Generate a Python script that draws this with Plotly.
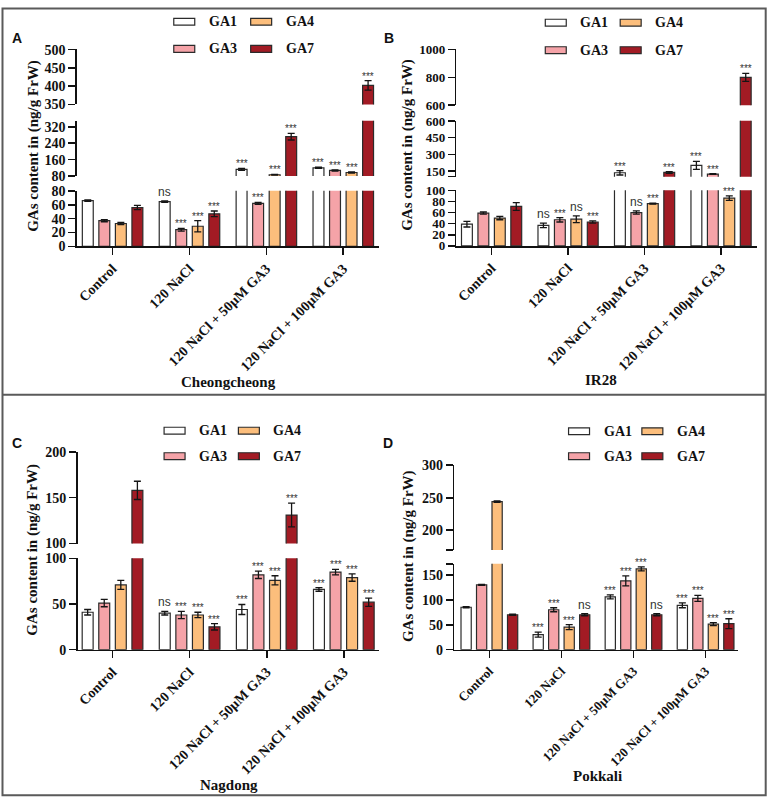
import plotly.graph_objects as go

# ---------------- data ----------------
CATEGORIES = ["Control", "120 NaCl", "120 NaCl + 50µM GA3", "120 NaCl + 100µM GA3"]
SERIES = ["GA1", "GA3", "GA4", "GA7"]
LEGEND_ORDER = ["GA1", "GA4", "GA3", "GA7"]  # 2 x 2, row-major

# Panel A - Cheongcheong
A_GA1 = [66, 64.5, 112, 120]
A_GA3 = [37, 24, 62, 107]
A_GA4 = [33, 29, 86, 97]
A_GA7 = [56, 47, 272, 402]
A_GA1_ERR = [1, 1, 5, 3]
A_GA3_ERR = [1.5, 2, 1.5, 3]
A_GA4_ERR = [1.5, 8, 2, 3]
A_GA7_ERR = [3, 4, 16, 13]
A_GA1_SIG = ["", "ns", "***", "***"]
A_GA3_SIG = ["", "***", "***", "***"]
A_GA4_SIG = ["", "***", "***", "***"]
A_GA7_SIG = ["", "***", "***", "***"]
A_BREAKS = [[0, 80], [80, 350], [350, 500]]
A_TICKS = [[0, 20, 40, 60, 80], [80, 160, 240, 320], [350, 400, 450, 500]]

# Panel B - IR28
B_GA1 = [39, 37, 135, 201]
B_GA3 = [59, 47, 60, 123]
B_GA4 = [50, 48, 76, 86]
B_GA7 = [71, 43, 138, 800]
B_GA1_ERR = [5, 4, 20, 36]
B_GA3_ERR = [2, 4, 3, 3]
B_GA4_ERR = [3, 6, 1, 4]
B_GA7_ERR = [7, 2, 8, 29]
B_GA1_SIG = ["", "ns", "***", "***"]
B_GA3_SIG = ["", "***", "ns", "***"]
B_GA4_SIG = ["", "ns", "***", "***"]
B_GA7_SIG = ["", "***", "***", "***"]
B_BREAKS = [[0, 100], [100, 600], [600, 1000]]
B_TICKS = [[0, 20, 40, 60, 80, 100], [100, 150, 300, 450, 600], [600, 800, 1000]]
B_TICKTEXT = [["0", "20", "40", "60", "80", "100"], ["", "150", "300", "450", "600"], ["600", "800", "1000"]]

# Panel C - Nagdong
C_GA1 = [41, 40, 44, 66]
C_GA3 = [51, 38, 82, 85]
C_GA4 = [71, 38, 76, 79]
C_GA7 = [158, 25, 131, 52]
C_GA1_ERR = [3, 2, 5.5, 2]
C_GA3_ERR = [4, 4, 4, 3]
C_GA4_ERR = [5, 3, 5, 4]
C_GA7_ERR = [10, 3.5, 13, 4.5]
C_GA1_SIG = ["", "ns", "***", "***"]
C_GA3_SIG = ["", "***", "***", "***"]
C_GA4_SIG = ["", "***", "***", "***"]
C_GA7_SIG = ["", "***", "***", "***"]
C_BREAKS = [[0, 100], [100, 200]]
C_TICKS = [[0, 50, 100], [100, 150, 200]]

# Panel D - Pokkali
D_GA1 = [85, 30, 106, 89]
D_GA3 = [130, 80, 138, 103]
D_GA4 = [244, 45, 162, 51]
D_GA7 = [70, 70, 70, 52]
D_GA1_ERR = [1, 5, 4, 5]
D_GA3_ERR = [1, 4, 10, 6]
D_GA4_ERR = [1, 5, 4, 3]
D_GA7_ERR = [1, 2, 2, 10]
D_GA1_SIG = ["", "***", "***", "***"]
D_GA3_SIG = ["", "***", "***", "***"]
D_GA4_SIG = ["", "***", "***", "***"]
D_GA7_SIG = ["", "ns", "ns", "***"]
D_BREAKS = [[0, 172], [170, 300]]
D_TICKS = [[0, 50, 100, 150, 172], [170, 200, 250, 300]]
D_TICKTEXT = [["0", "50", "100", "150", ""], ["", "200", "250", "300"]]

# ---------------- style / layout ----------------
W, H = 767, 806
SERIF = "Liberation Serif, Times New Roman, serif"
SANS = "Liberation Sans, Arial, sans-serif"
FILL = {"GA1": "#FFFFFF", "GA3": "#F5A3A8", "GA4": "#FCBE7C", "GA7": "#A21B24"}
EDGE = "#2b2b2b"
BARGAP = 0.14
BARGROUPGAP = 0.34


def fx(px):
    return px / W


def fy(py):
    return 1 - py / H


PANELS = [
    dict(letter="A", cultivar="Cheongcheong",
         values={"GA1": A_GA1, "GA3": A_GA3, "GA4": A_GA4, "GA7": A_GA7},
         errors={"GA1": A_GA1_ERR, "GA3": A_GA3_ERR, "GA4": A_GA4_ERR, "GA7": A_GA7_ERR},
         sig={"GA1": A_GA1_SIG, "GA3": A_GA3_SIG, "GA4": A_GA4_SIG, "GA7": A_GA7_SIG},
         breaks=A_BREAKS, ticks=A_TICKS, ticktext=None, yfont=14, xfont=14,
         xpx=(76, 378), xrange=[-0.464, 3.458],
         ypx=[(244, 187.3), (172.3, 115.8), (99.3, 43.3)],
         letter_pos=(16, 32), legend=(173, 15, 77, 27.7),
         ytitle=(33, 141.5), xtitle=(228, 382)),
    dict(letter="B", cultivar="IR28",
         values={"GA1": B_GA1, "GA3": B_GA3, "GA4": B_GA4, "GA7": B_GA7},
         errors={"GA1": B_GA1_ERR, "GA3": B_GA3_ERR, "GA4": B_GA4_ERR, "GA7": B_GA7_ERR},
         sig={"GA1": B_GA1_SIG, "GA3": B_GA3_SIG, "GA4": B_GA4_SIG, "GA7": B_GA7_SIG},
         breaks=B_BREAKS, ticks=B_TICKS, ticktext=B_TICKTEXT, yfont=13, xfont=14,
         xpx=(456, 757), xrange=[-0.46, 3.47],
         ypx=[(243.5, 186.7), (173, 116), (100, 43.3)],
         letter_pos=(389, 32), legend=(545, 16, 75, 28),
         ytitle=(407, 140), xtitle=(601, 380)),
    dict(letter="C", cultivar="Nagdong",
         values={"GA1": C_GA1, "GA3": C_GA3, "GA4": C_GA4, "GA7": C_GA7},
         errors={"GA1": C_GA1_ERR, "GA3": C_GA3_ERR, "GA4": C_GA4_ERR, "GA7": C_GA7_ERR},
         sig={"GA1": C_GA1_SIG, "GA3": C_GA3_SIG, "GA4": C_GA4_SIG, "GA7": C_GA7_SIG},
         breaks=C_BREAKS, ticks=C_TICKS, ticktext=None, yfont=14, xfont=14,
         xpx=(76.7, 378), xrange=[-0.453, 3.45],
         ypx=[(655, 561.7), (546.7, 453.3)],
         letter_pos=(16, 444), legend=(163.3, 431.7, 74.4, 26),
         ytitle=(32, 553), xtitle=(228, 793)),
    dict(letter="D", cultivar="Pokkali",
         values={"GA1": D_GA1, "GA3": D_GA3, "GA4": D_GA4, "GA7": D_GA7},
         errors={"GA1": D_GA1_ERR, "GA3": D_GA3_ERR, "GA4": D_GA4_ERR, "GA7": D_GA7_ERR},
         sig={"GA1": D_GA1_SIG, "GA3": D_GA3_SIG, "GA4": D_GA4_SIG, "GA7": D_GA7_SIG},
         breaks=D_BREAKS, ticks=D_TICKS, ticktext=D_TICKTEXT, yfont=14, xfont=13,
         xpx=(454, 738), xrange=[-0.485, 3.45],
         ypx=[(655, 567.3), (553.3, 466.7)],
         letter_pos=(388, 444), legend=(568.3, 432.3, 73.4, 25.4),
         ytitle=(408, 559), xtitle=(597, 784)),
]

fig = go.Figure()
layout = {}
annotations = []
shapes = []
slot = (1 - BARGAP) / len(SERIES)
xs = list(range(len(CATEGORIES)))

yi = 0
for pi, p in enumerate(PANELS):
    xname = "x" if pi == 0 else f"x{pi + 1}"
    xkey = "xaxis" if pi == 0 else f"xaxis{pi + 1}"
    seg_names = []
    for si, (rng, tv, (pyb, pyt)) in enumerate(zip(p["breaks"], p["ticks"], p["ypx"])):
        yi += 1
        yname = "y" if yi == 1 else f"y{yi}"
        ykey = "yaxis" if yi == 1 else f"yaxis{yi}"
        seg_names.append(yname)
        eps = (rng[1] - rng[0]) * 0.002
        ax = dict(domain=[fy(pyb), fy(pyt)], range=[rng[0] - eps, rng[1] + eps],
                  anchor=xname, tickmode="array", tickvals=tv,
                  showline=True, linecolor="#111", linewidth=1.6,
                  ticks="outside", ticklen=7, tickwidth=1.6, tickcolor="#111",
                  showgrid=False, zeroline=False, fixedrange=True,
                  tickfont=dict(family=SERIF, size=p["yfont"], color="#111", weight="bold"))
        if p["ticktext"] is not None:
            ax["ticktext"] = p["ticktext"][si]
        layout[ykey] = ax
        for s in SERIES:
            fig.add_trace(go.Bar(
                x=xs, y=p["values"][s], name=s, showlegend=False,
                xaxis=xname, yaxis=yname,
                marker=dict(color=FILL[s], line=dict(color=EDGE, width=1.2)),
                error_y=dict(type="data", array=p["errors"][s], visible=True,
                             color="#151515", thickness=1.3, width=3.5),
            ))
    layout[xkey] = dict(domain=[fx(p["xpx"][0]), fx(p["xpx"][1])], range=p["xrange"],
                        anchor=seg_names[0], tickmode="array", tickvals=xs,
                        ticktext=CATEGORIES, tickangle=-45,
                        showline=True, linecolor="#111", linewidth=1.6,
                        ticks="outside", ticklen=7, tickwidth=1.6, tickcolor="#111",
                        showgrid=False, zeroline=False, fixedrange=True,
                        tickfont=dict(family=SERIF, size=p["xfont"], color="#111", weight="bold"))

    # significance labels
    for k, s in enumerate(SERIES):
        for i in xs:
            lab = p["sig"][s][i]
            if not lab:
                continue
            top = p["values"][s][i] + p["errors"][s][i]
            yref = seg_names[0]
            for sn, rng in zip(seg_names, p["breaks"]):
                if rng[0] <= top <= rng[1]:
                    yref = sn
            annotations.append(dict(
                x=i + (k - 1.5) * slot, y=top, xref=xname, yref=yref,
                text=lab, showarrow=False, xanchor="center", yanchor="bottom",
                yshift=-3 if lab == "***" else 0,
                font=dict(family=SANS, size=10 if lab == "***" else 12, color="#333333")))

    # panel letter
    annotations.append(dict(x=fx(p["letter_pos"][0]), y=fy(p["letter_pos"][1]),
                            xref="paper", yref="paper", text=p["letter"], showarrow=False,
                            xanchor="center", yanchor="middle",
                            font=dict(family=SANS, size=14, color="#111", weight="bold")))
    # axis titles
    annotations.append(dict(x=fx(p["ytitle"][0]), y=fy(p["ytitle"][1]),
                            xref="paper", yref="paper", text="GAs content in (ng/g FrW)",
                            textangle=-90, showarrow=False, xanchor="center", yanchor="middle",
                            font=dict(family=SERIF, size=15, color="#111", weight="bold")))
    annotations.append(dict(x=fx(p["xtitle"][0]), y=fy(p["xtitle"][1]),
                            xref="paper", yref="paper", text=p["cultivar"],
                            showarrow=False, xanchor="center", yanchor="middle",
                            font=dict(family=SERIF, size=15, color="#111", weight="bold")))
    # legend (2 x 2)
    lx, ly, dx, dy = p["legend"]
    for j, s in enumerate(LEGEND_ORDER):
        col, row = j % 2, j // 2
        x0 = lx + col * dx
        yc = ly + row * dy
        shapes.append(dict(type="rect", xref="paper", yref="paper",
                           x0=fx(x0), x1=fx(x0 + 21), y0=fy(yc - 3.5), y1=fy(yc + 3.5),
                           fillcolor=FILL[s], line=dict(color=EDGE, width=1.2)))
        annotations.append(dict(x=fx(x0 + 33), y=fy(yc), xref="paper", yref="paper",
                                text=s, showarrow=False, xanchor="left", yanchor="middle",
                                font=dict(family=SERIF, size=14, color="#111", weight="bold")))

# panel frames
shapes.append(dict(type="rect", xref="paper", yref="paper",
                   x0=fx(1.5), x1=fx(765.7), y0=fy(1.5), y1=fy(803.3),
                   line=dict(color="#5a5a5a", width=2)))
shapes.append(dict(type="line", xref="paper", yref="paper",
                   x0=fx(1.5), x1=fx(765.7), y0=fy(395), y1=fy(395),
                   line=dict(color="#5a5a5a", width=2)))

fig.update_layout(
    width=W, height=H, autosize=False,
    margin=dict(l=0, r=0, t=0, b=0),
    paper_bgcolor="white", plot_bgcolor="white",
    barmode="group", bargap=BARGAP, bargroupgap=BARGROUPGAP,
    showlegend=False,
    annotations=annotations, shapes=shapes,
    **layout,
)

fig.write_html("out.html",
               config={"displayModeBar": False, "staticPlot": True},
               post_script="document.body.style.margin='0';document.body.style.overflow='hidden';")
